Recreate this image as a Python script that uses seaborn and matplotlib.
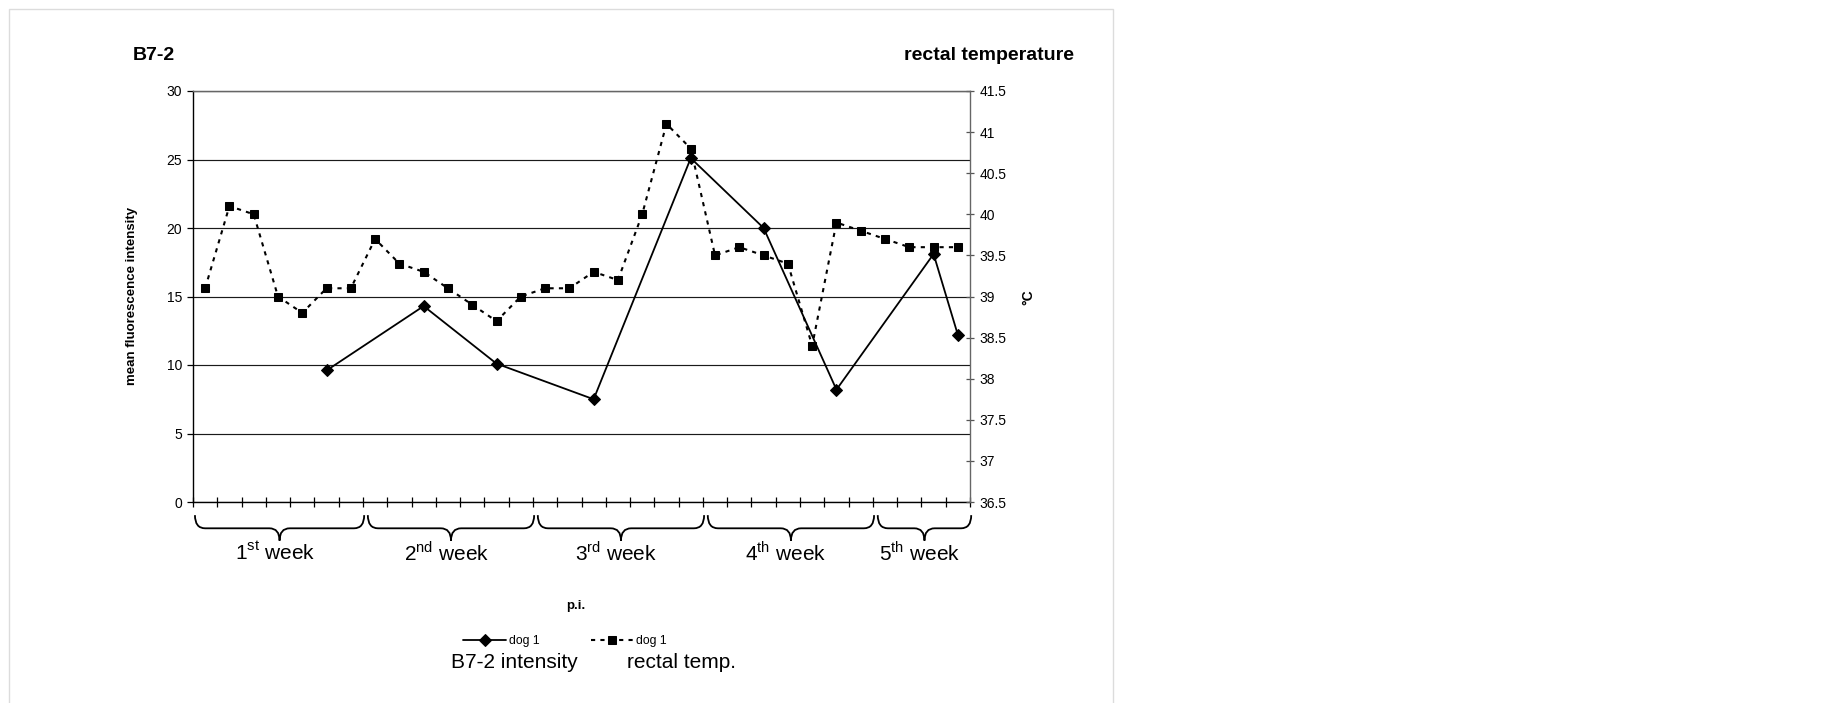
import matplotlib
matplotlib.use("Agg")
import matplotlib.pyplot as plt
import matplotlib.patches as mpatches
from matplotlib.path import Path
from matplotlib.transforms import blended_transform_factory
import pandas as pd
import seaborn as sns

# data
days = list(range(32))
rectal_temp = [39.1, 40.1, 40.0, 39.0, 38.8, 39.1, 39.1, 39.7, 39.4, 39.3,
               39.1, 38.9, 38.7, 39.0, 39.1, 39.1, 39.3, 39.2, 40.0, 41.1,
               40.8, 39.5, 39.6, 39.5, 39.4, 38.4, 39.9, 39.8, 39.7, 39.6,
               39.6, 39.6]
intensity_days = [5, 9, 12, 16, 20, 23, 26, 30, 31]
intensity = [9.6, 14.3, 10.1, 7.5, 25.1, 20.0, 8.2, 18.1, 12.2]

week_edges = [0, 7, 14, 21, 28, 32]
week_labels = [r"1$^{\mathrm{st}}$ week", r"2$^{\mathrm{nd}}$ week",
               r"3$^{\mathrm{rd}}$ week", r"4$^{\mathrm{th}}$ week",
               r"5$^{\mathrm{th}}$ week"]

left_ticks = [0, 5, 10, 15, 20, 25, 30]
right_ticks = [36.5, 37, 37.5, 38, 38.5, 39, 39.5, 40, 40.5, 41, 41.5]

sns.set_style("white")
plt.rcParams["font.family"] = ["Liberation Sans", "DejaVu Sans"]
plt.rcParams["mathtext.fontset"] = "custom"
plt.rcParams["mathtext.rm"] = "Liberation Sans"
plt.rcParams["text.color"] = "black"
plt.rcParams["axes.labelcolor"] = "black"
plt.rcParams["xtick.color"] = "black"
plt.rcParams["ytick.color"] = "black"

W, H = 1845, 703
fig = plt.figure(figsize=(W / 100, H / 100), dpi=100)
fig.patch.set_facecolor("white")

# light frame round the chart area
fig.add_artist(mpatches.Rectangle((9 / W, -0.02), (1113 - 9) / W, 1 - 9 / H + 0.02,
                                  transform=fig.transFigure, fill=False,
                                  edgecolor="#dcdcdc", lw=1.0))

ax = fig.add_axes([193 / W, 1 - 502 / H, (970 - 193) / W, (502 - 91) / H])
ax2 = ax.twinx()

temp_df = pd.DataFrame({"day": days, "temp": rectal_temp})
int_df = pd.DataFrame({"day": intensity_days, "intensity": intensity})

sns.lineplot(data=int_df, x="day", y="intensity", ax=ax, color="black",
             marker="D", markersize=5.8, markeredgecolor="black",
             linewidth=1.3, label="dog 1", legend=False, zorder=5)
sns.lineplot(data=temp_df, x="day", y="temp", ax=ax2, color="black",
             marker="s", markersize=5.4, markeredgecolor="black",
             linewidth=1.5, linestyle=(0, (2.0, 2.5)), label="dog 1",
             legend=False, zorder=4)

ax.set_xlim(-0.5, 31.5)
ax.set_ylim(0, 30)
ax2.set_ylim(36.5, 41.5)

ax.set_yticks(left_ticks)
ax.set_yticklabels([str(v) for v in left_ticks], fontsize=10)
ax2.set_yticks(right_ticks)
ax2.set_yticklabels([f"{v:g}" for v in right_ticks], fontsize=10)

ax.set_xticks([])
ax.set_xticks([d - 0.5 for d in days] + [31.5], minor=True)
ax.tick_params(axis="x", which="minor", direction="inout", length=6.5,
               width=0.9, color="black", bottom=True)
ax.tick_params(axis="y", direction="out", length=4, width=0.9, pad=4,
               left=True, colors="black")
ax2.tick_params(axis="y", direction="inout", length=6, width=0.9, pad=4,
                right=True, color="#555555", labelcolor="black")

ax.yaxis.grid(True, color="#1a1a1a", linewidth=0.85)
ax.xaxis.grid(False)
ax2.grid(False)
ax.set_xlabel("")
ax.set_ylabel("")
ax2.set_ylabel("")

for a in (ax, ax2):
    a.patch.set_visible(False)
    a.spines["top"].set_visible(True)
    a.spines["top"].set_color("#666666")
    a.spines["top"].set_linewidth(0.9)
ax.spines["left"].set_color("black")
ax.spines["bottom"].set_color("black")
ax2.spines["right"].set_color("#666666")
ax2.spines["left"].set_visible(False)
ax2.spines["bottom"].set_visible(False)
for s in ("left", "bottom", "right"):
    ax.spines[s].set_linewidth(1.0)
    ax2.spines[s].set_linewidth(1.0)
ax.spines["right"].set_visible(False)

# curly braces marking the weeks
trans = blended_transform_factory(ax.transData, ax.transAxes)
top_y, mid_y, tip_y = -0.032, -0.064, -0.094
r = 0.42
for i, lab in enumerate(week_labels):
    x0 = week_edges[i] - 0.5 + (0.08 if i == 0 else 0.2)
    x1 = week_edges[i + 1] - 0.5 + 0.05
    xc = (x0 + x1) / 2
    verts = [(x0, top_y), (x0, mid_y), (x0 + r, mid_y),
             (xc - r, mid_y), (xc, mid_y), (xc, tip_y),
             (xc, mid_y), (xc + r, mid_y),
             (x1 - r, mid_y), (x1, mid_y), (x1, top_y)]
    codes = [Path.MOVETO, Path.CURVE3, Path.CURVE3,
             Path.LINETO, Path.CURVE3, Path.CURVE3,
             Path.CURVE3, Path.CURVE3,
             Path.LINETO, Path.CURVE3, Path.CURVE3]
    ax.add_patch(mpatches.PathPatch(Path(verts, codes), transform=trans,
                                    fill=False, lw=1.3, edgecolor="black",
                                    clip_on=False))
    ax.text(xc - 0.2, -0.124, lab, transform=trans, ha="center", va="center",
            fontsize=15)

# titles and axis labels
fig.text(133 / W, 1 - 55 / H, "B7-2", fontsize=14, fontweight="bold",
         ha="left", va="center")
fig.text(1074 / W, 1 - 56 / H, "rectal temperature", fontsize=14,
         fontweight="bold", ha="right", va="center")
fig.text(132 / W, 1 - 296 / H, "mean fluorescence intensity", fontsize=9.5,
         fontweight="bold", rotation=90, ha="center", va="center")
fig.text(1028 / W, 1 - 297 / H, "°C", fontsize=10, fontweight="bold",
         rotation=90, ha="center", va="center")
fig.text(576 / W, 1 - 606 / H, "p.i.", fontsize=9.5, fontweight="bold",
         ha="center", va="center")

# legend
handles = [ax.get_lines()[0], ax2.get_lines()[0]]
fig.legend(handles, ["dog 1", "dog 1"], ncol=2, loc="center",
           bbox_to_anchor=(565 / W, 1 - 641 / H), frameon=False,
           fontsize=8.8, handlelength=3.5, handletextpad=0.2,
           columnspacing=4.2, borderpad=0, borderaxespad=0)
fig.text(451 / W, 1 - 662 / H, "B7-2 intensity", fontsize=15,
         ha="left", va="center")
fig.text(627 / W, 1 - 662 / H, "rectal temp.", fontsize=15,
         ha="left", va="center")

fig.savefig("out.png", dpi=100)
plt.close(fig)
